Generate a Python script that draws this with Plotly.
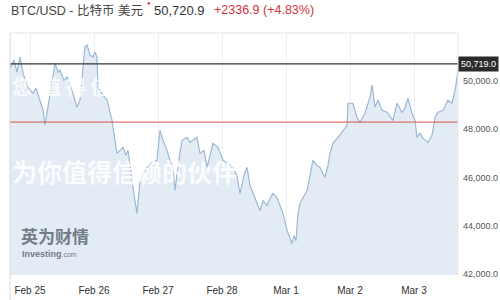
import pandas as pd
import plotly.graph_objects as go

# ---- data ----
base = pd.Timestamp("2021-02-25 00:00")
hours = [-7.5, -6, -4.9, -3.75, -2.6, -1.1, 0, 1.1, 2.25, 3.75, 4.9, 5.6, 6.4, 7.5, 8.6, 9.4,
         10.5, 11.25, 12.75, 13.9, 15.75, 17.6, 18.75, 19.9, 20.6, 21.4, 22.5, 23.6, 24.4, 25.1,
         25.5, 27.4, 28.9, 30.75, 31.9, 32.6, 33.75, 34.9, 36, 36.75, 38.25, 39.4, 40.1, 41.25,
         42.75, 43.9, 45.75, 47.6, 48.75, 49.9, 51.4, 52.5, 53.6, 54.4, 55.5, 57, 58.9, 60,
         61.1, 62.6, 63.75, 65.25, 66.4, 67.5, 68.6, 70.5, 72.4, 74.25, 76.1, 77.6, 78.75,
         80.25, 81.4, 82.5, 84, 85.1, 86.25, 87.4, 88.9, 90, 91.1, 92.6, 93.75, 94.9, 96.4,
         97.5, 98.25, 99, 99.75, 100.5, 101.25, 102.4, 103.9, 105, 106.1, 107.6, 108.75, 110.6,
         111.75, 112.5, 113.6, 115.5, 117.4, 118.9, 119.25, 121.1, 122.6, 123.75, 125.6, 127.5,
         128.25, 129.4, 130.5, 132, 133.9, 136.1, 137.6, 139.5, 140.6, 141.75, 143.25, 144.4,
         145.1, 146.25, 147.4, 149.25, 150.75, 151.9, 153, 154.9, 156.75, 158.25, 159.4, 160.1,
         160.9]
prices = [50542, 50875, 50376, 51000, 50333, 49833, 49625, 49500, 49708, 49208, 48792, 48167,
          48708, 49625, 50250, 50750, 50375, 50458, 50042, 50167, 49625, 48917, 49208, 50458,
          51417, 51500, 51083, 51000, 51208, 51000, 49750, 49417, 49208, 48375, 47542, 47000,
          47125, 47250, 46917, 47125, 45875, 45042, 44500, 45875, 46208, 46417, 46625, 46708,
          47958, 47542, 47125, 46708, 46417, 45458, 46500, 47542, 47667, 47458, 47542, 47667,
          47000, 47125, 46417, 46917, 47417, 47250, 46708, 46583, 46417, 46083, 45333, 46083,
          46417, 45667, 45250, 44917, 44625, 45042, 44833, 45125, 45333, 45167, 44833, 44500,
          43792, 43458, 43250, 43583, 43375, 44500, 44917, 45167, 45458, 46083, 46708, 46500,
          46417, 46000, 46500, 47000, 47417, 47667, 47958, 48167, 49083, 49083, 48500, 48292,
          48667, 49333, 49833, 48917, 49208, 48792, 48708, 48375, 49083, 48708, 48875, 49292,
          48667, 48375, 47667, 47833, 47625, 47458, 47750, 48500, 48708, 48792, 49208, 49083,
          49625, 50125, 50719]
x_ticks = ["2021-02-25", "2021-02-26", "2021-02-27", "2021-02-28", "2021-03-01", "2021-03-02", "2021-03-03"]
x_tick_labels = ["Feb 25", "Feb 26", "Feb 27", "Feb 28", "Mar 1", "Mar 2", "Mar 3"]
y_ticks = [42000, 44000, 46000, 48000, 50000]
y_tick_labels = ["42,000.0", "44,000.0", "46,000.0", "48,000.0", "50,000.0"]
last_price = 50719
last_price_label = "50,719.0"
red_level = 48300
title_name = "BTC/USD - 比特币 美元"
title_price = "50,720.9"
title_change = "+2336.9 (+4.83%)"

times = [base + pd.Timedelta(hours=h) for h in hours]
x_start = base + pd.Timedelta(hours=-7.5)
x_end = base + pd.Timedelta(hours=160.5)

fig = go.Figure()
fig.add_trace(go.Scatter(x=times, y=prices, mode="lines",
                         line=dict(color="#9bb8d6", width=1.2),
                         fill="tozeroy", fillcolor="#e3ecf4", hoverinfo="skip"))

fig.add_hline(y=last_price, line=dict(color="#333333", width=1.2))
fig.add_hline(y=red_level, line=dict(color="#d9534f", width=1))

fig.update_layout(
    width=500, height=300,
    margin=dict(l=10, r=42, t=33, b=25),
    paper_bgcolor="white", plot_bgcolor="white",
    showlegend=False,
    font=dict(family="Liberation Sans, Arial, sans-serif", color="#444"),
    xaxis=dict(range=[x_start, x_end], tickvals=x_ticks, ticktext=x_tick_labels,
               showgrid=True, gridcolor="rgba(200,210,220,0.35)", zeroline=False,
               tickfont=dict(size=10, color="#333"), ticks="", showline=False,
               ticklabelstandoff=8, automargin=False),
    yaxis=dict(range=[41950, 52000], side="right", tickvals=y_ticks, ticktext=y_tick_labels,
               showgrid=False, zeroline=False,
               tickfont=dict(size=9, color="#555"), ticks="", showline=False,
               ticklabelstandoff=4, automargin=False),
)

# plot frame lines
fig.add_shape(type="line", xref="paper", yref="paper", x0=0, x1=0, y0=-0.12, y1=1,
              line=dict(color="#d8d8d8", width=1))
fig.add_shape(type="line", xref="paper", yref="paper", x0=0, x1=1, y0=1, y1=1,
              line=dict(color="#e4e4e4", width=1))
fig.add_shape(type="line", xref="paper", yref="paper", x0=1, x1=1, y0=0, y1=1,
              line=dict(color="#e8e8e8", width=1))

# last price box
fig.add_annotation(xref="paper", yref="y", x=1.0, y=last_price, xanchor="left", yanchor="middle",
                   text=last_price_label, showarrow=False,
                   font=dict(size=9, color="white"), bgcolor="#2b2b2b", borderpad=2)

# header
fig.add_annotation(xref="paper", yref="paper", x=-0.002, y=1.095, xanchor="left", yanchor="middle",
                   text=title_name, showarrow=False,
                   font=dict(size=12.5, color="#444", family="Liberation Sans, Noto Sans CJK SC"))
fig.add_annotation(xref="paper", yref="paper", x=0.302, y=1.125, xanchor="left", yanchor="middle",
                   text="●", showarrow=False, font=dict(size=6, color="#e0303a"))
fig.add_annotation(xref="paper", yref="paper", x=0.318, y=1.095, xanchor="left", yanchor="middle",
                   text=title_price, showarrow=False,
                   font=dict(size=13, color="#333", family="Liberation Sans"))
fig.add_annotation(xref="paper", yref="paper", x=0.452, y=1.095, xanchor="left", yanchor="middle",
                   text=title_change, showarrow=False,
                   font=dict(size=12.5, color="#d2343a", family="Liberation Sans"))

# watermarks
fig.add_annotation(xref="paper", yref="paper", x=0.0, y=0.43, xanchor="left", yanchor="middle",
                   text="<b>为你值得信赖的伙伴</b>", showarrow=False,
                   font=dict(size=25, color="rgba(255,255,255,0.85)", family="Noto Sans CJK SC"))
fig.add_annotation(xref="paper", yref="paper", x=0.0, y=0.78, xanchor="left", yanchor="middle",
                   text="<b>您  值 得 信</b>", showarrow=False,
                   font=dict(size=20, color="rgba(255,255,255,0.8)", family="Noto Sans CJK SC"))

# logo
fig.add_annotation(xref="paper", yref="paper", x=0.02, y=0.165, xanchor="left", yanchor="middle",
                   text="<b>英为财情</b>", showarrow=False,
                   font=dict(size=17, color="#737d88", family="Noto Sans CJK SC"))
fig.add_annotation(xref="paper", yref="paper", x=0.022, y=0.085, xanchor="left", yanchor="middle",
                   text="<b>Investing</b><span style='font-size:7px'>.com</span>", showarrow=False,
                   font=dict(size=9, color="#737d88", family="Liberation Sans"))

fig.write_html("out.html")
